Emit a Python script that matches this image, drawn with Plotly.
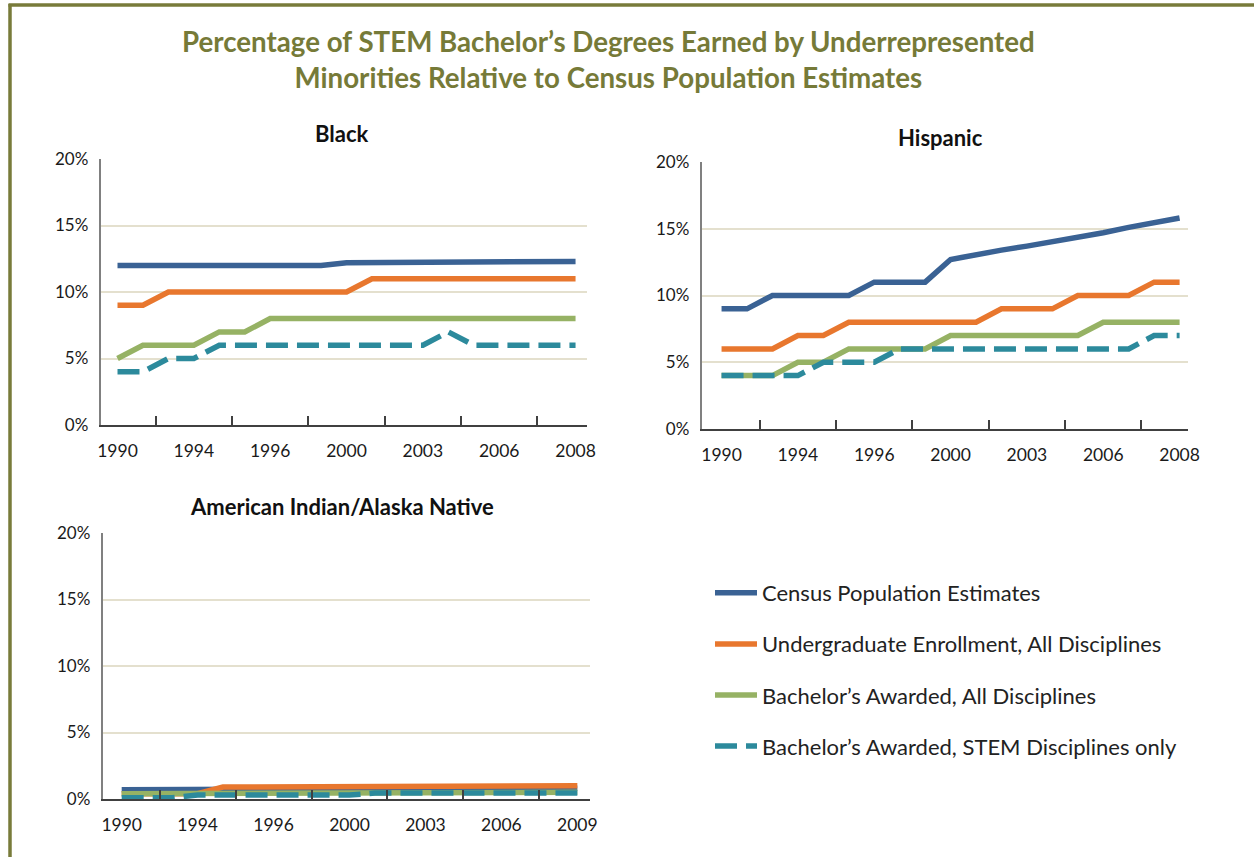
import plotly.graph_objects as go

W, H = 1254, 857

# ---------------- data (19 observation points per panel) ----------------
series_names = [
    "Census Population Estimates",
    "Undergraduate Enrollment, All Disciplines",
    "Bachelor’s Awarded, All Disciplines",
    "Bachelor’s Awarded, STEM Disciplines only",
]
series_colors = ["#3A6294", "#E8772E", "#96B264", "#2C8A9C"]

tick_labels_main = ["1990", "1994", "1996", "2000", "2003", "2006", "2008"]
tick_labels_aian = ["1990", "1994", "1996", "2000", "2003", "2006", "2009"]
y_tick_values = [0, 5, 10, 15, 20]
y_tick_labels = ["0%", "5%", "10%", "15%", "20%"]

black_census = [12, 12, 12, 12, 12, 12, 12, 12, 12, 12.2, 12.2, 12.2, 12.2, 12.2, 12.2, 12.2, 12.2, 12.3, 12.3]
black_enroll = [9, 9, 10, 10, 10, 10, 10, 10, 10, 10, 11, 11, 11, 11, 11, 11, 11, 11, 11]
black_bach = [5, 6, 6, 6, 7, 7, 8, 8, 8, 8, 8, 8, 8, 8, 8, 8, 8, 8, 8]
black_stem = [4, 4, 5, 5, 6, 6, 6, 6, 6, 6, 6, 6, 6, 7, 6, 6, 6, 6, 6]

hisp_census = [9, 9, 10, 10, 10, 10, 11, 11, 11, 12.7, 13.1, 13.4, 13.7, 14.0, 14.4, 14.7, 15.1, 15.4, 15.8]
hisp_enroll = [6, 6, 6, 7, 7, 8, 8, 8, 8, 8, 8, 9, 9, 9, 10, 10, 10, 11, 11]
hisp_bach = [4, 4, 4, 5, 5, 6, 6, 6, 6, 7, 7, 7, 7, 7, 7, 8, 8, 8, 8]
hisp_stem = [4, 4, 4, 4, 5, 5, 5, 6, 6, 6, 6, 6, 6, 6, 6, 6, 6, 7, 7]

aian_census = [0.7, 0.7, 0.7, 0.7, 0.7, 0.7, 0.7, 0.7, 0.7, 0.7, 0.8, 0.8, 0.8, 0.8, 0.8, 0.8, 0.8, 0.8, 0.8]
aian_enroll = [0.4, 0.4, 0.4, 0.4, 0.9, 0.9, 0.9, 0.9, 0.9, 0.9, 1.0, 1.0, 1.0, 1.0, 1.0, 1.0, 1.0, 1.0, 1.0]
aian_bach = [0.4, 0.4, 0.4, 0.4, 0.4, 0.4, 0.4, 0.4, 0.4, 0.4, 0.5, 0.5, 0.5, 0.5, 0.5, 0.5, 0.5, 0.5, 0.5]
aian_stem = [0.1, 0.1, 0.1, 0.3, 0.3, 0.3, 0.3, 0.3, 0.3, 0.3, 0.45, 0.45, 0.45, 0.45, 0.45, 0.45, 0.45, 0.45, 0.45]

panels = [
    ("Black", [black_census, black_enroll, black_bach, black_stem], tick_labels_main),
    ("Hispanic", [hisp_census, hisp_enroll, hisp_bach, hisp_stem], tick_labels_main),
    ("American Indian/Alaska Native", [aian_census, aian_enroll, aian_bach, aian_stem], tick_labels_aian),
]

# ---------------- layout geometry (pixels) ----------------
# (left, right, top, bottom, xmin, xmax)
geom = [
    (100.7, 587, 159, 425, -0.66, 18.45),
    (701.7, 1188, 162, 429, -0.78, 18.33),
    (102.7, 590, 533, 799, -0.75, 18.5),
]
title_pos = [(342, 133), (940, 137), (342, 506)]

FONT = "Lato"
fig = go.Figure()

for p, (pname, vals, labels) in enumerate(panels):
    ax = "" if p == 0 else str(p + 1)
    for s, (name, color, v) in enumerate(zip(series_names, series_colors, vals)):
        xs = list(range(len(v)))
        fig.add_trace(go.Scatter(
            x=xs, y=v, mode="lines", name=name,
            line=dict(color=color, width=5.5,
                      dash="22px,9px" if s == 3 else "solid"),
            legendgroup=name, showlegend=(p == 0),
            xaxis="x" + ax, yaxis="y" + ax, hoverinfo="skip",
        ))
    L, R, T, B, xmin, xmax = geom[p]
    label_pos = [i * 3 for i in range(len(labels))]
    fig.update_layout(**{
        "xaxis" + ax: dict(
            domain=[L / W, R / W], anchor="y" + ax, range=[xmin, xmax],
            tickmode="array", tickvals=label_pos, ticktext=labels,
            ticks="", showgrid=False, zeroline=False,
            showline=True, linecolor="#404040", linewidth=2,
            tickfont=dict(family=FONT, size=17.5, color="#1a1a1a"),
            ticklabelstandoff=9,
            minor=dict(tickmode="linear", tick0=1.5, dtick=3, ticks="inside",
                       ticklen=9, tickwidth=1.5, tickcolor="#404040", showgrid=False),
            fixedrange=True, automargin=False,
        ),
        "yaxis" + ax: dict(
            domain=[(H - B) / H, (H - T) / H], anchor="x" + ax, range=[0, 20],
            tickmode="array", tickvals=y_tick_values, ticktext=y_tick_labels,
            ticks="", showgrid=True, gridcolor="#E4E0CE", gridwidth=2,
            zeroline=False, showline=True, linecolor="#808080", linewidth=2,
            tickfont=dict(family=FONT, size=17, color="#1a1a1a"),
            ticklabelstandoff=7, fixedrange=True, automargin=False,
        ),
    })

annotations = []
for (pname, _, _), (tx, ty) in zip(panels, title_pos):
    annotations.append(dict(
        text="<b>" + pname + "</b>", x=tx / W, y=(H - ty) / H, xref="paper", yref="paper",
        showarrow=False, xanchor="center", yanchor="middle",
        font=dict(family=FONT, size=22, color="#111111"),
    ))
annotations.append(dict(
    text="<b>Percentage of STEM Bachelor’s Degrees Earned by Underrepresented<br>"
         "Minorities Relative to Census Population Estimates</b>",
    x=608 / W, y=(H - 59) / H, xref="paper", yref="paper",
    showarrow=False, xanchor="center", yanchor="middle", align="center",
    font=dict(family=FONT, size=27.7, color="#767A38"),
))

shapes = [
    dict(type="line", xref="paper", yref="paper", x0=10 / W, x1=10 / W, y0=0, y1=(H - 4) / H,
         line=dict(color="#787B3A", width=3.5)),
    dict(type="line", xref="paper", yref="paper", x0=8.5 / W, x1=1, y0=(H - 5) / H, y1=(H - 5) / H,
         line=dict(color="#787B3A", width=3.5)),
]

fig.update_layout(
    width=W, height=H, autosize=False,
    margin=dict(l=0, r=0, t=0, b=0, pad=0, autoexpand=False),
    paper_bgcolor="white", plot_bgcolor="white",
    annotations=annotations, shapes=shapes,
    showlegend=True,
    legend=dict(
        x=710 / W, y=(H - 572) / H, xanchor="left", yanchor="top",
        font=dict(family=FONT, size=22, color="#222222"),
        tracegroupgap=19.5, bgcolor="rgba(0,0,0,0)", borderwidth=0,
        traceorder="grouped", itemwidth=42,
    ),
)

fig.write_html(
    "out.html",
    config={"displayModeBar": False},
    post_script="document.body.style.margin='0';document.body.style.overflow='hidden';",
)
